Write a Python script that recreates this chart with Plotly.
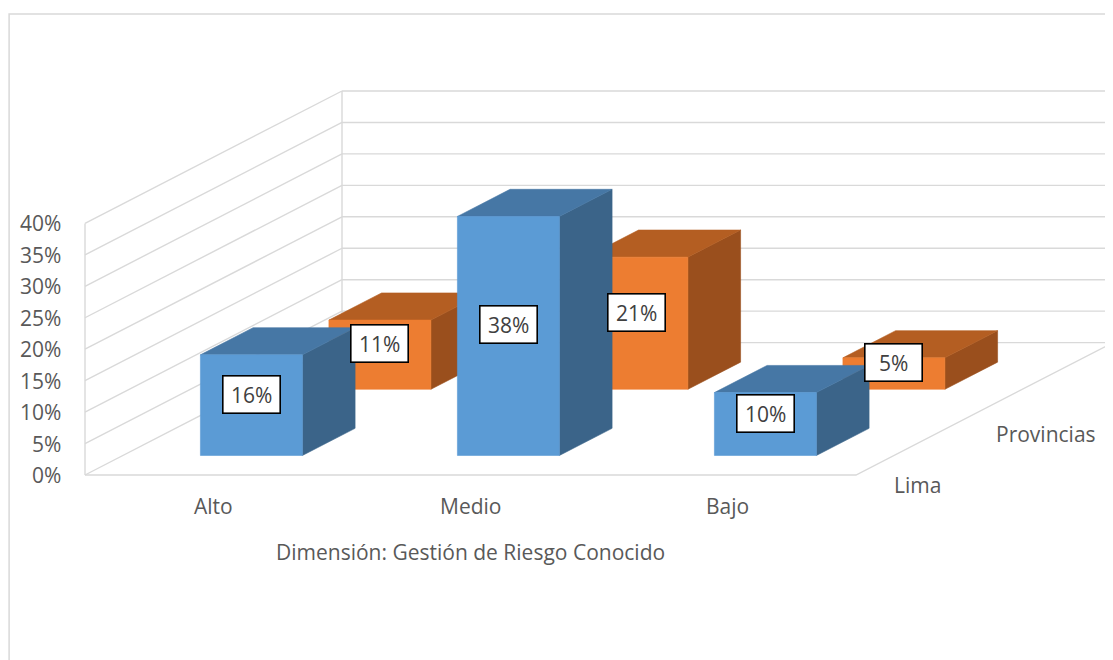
import plotly.graph_objects as go

# ---------------- data ----------------
categories = ["Alto", "Medio", "Bajo"]
series_names = ["Lima", "Provincias"]
lima_values = [16, 38, 10]
provincias_values = [11, 21, 5]
y_ticks = [0, 5, 10, 15, 20, 25, 30, 35, 40]
y_tick_labels = ["0%", "5%", "10%", "15%", "20%", "25%", "30%", "35%", "40%"]
axis_title = "Dimensión: Gestión de Riesgo Conocido"

# ---------------- style / geometry ----------------
PAGE_OFF = 8               # default page margin of the html body
W, H = 1113 - PAGE_OFF, 660 - PAGE_OFF
ORIGIN_PX = (85 - PAGE_OFF, 475 - PAGE_OFF)
CAT_PX = 257.0             # pixels per category
PCT_PX = 6.29              # pixels per percent
SLOT_DX = 0.5              # depth step per series, in category units
SLOT_DY = 66.2 / PCT_PX    # depth step per series, in percent units
BAR_W = 102 / CAT_PX
BAR_D = 0.41
FONT = "Open Sans"
FS = 21
TXT = "#595959"
GRID = "#D9D9D9"
face_colors = {
    "Lima": ("#5B9BD5", "#4677A5", "#3B6489"),
    "Provincias": ("#ED7D31", "#B45E22", "#9A4F1D"),
}

x_range = [-ORIGIN_PX[0] / CAT_PX, (W - ORIGIN_PX[0]) / CAT_PX]
y_range = [-(H - ORIGIN_PX[1]) / PCT_PX, ORIGIN_PX[1] / PCT_PX]

n_cat = len(categories)
n_ser = len(series_names)
y_max = max(y_ticks)


def P(x, y, z):
    """oblique projection of (category x, value y, depth z)"""
    return x + z * SLOT_DX, y + z * SLOT_DY


fig = go.Figure()


def line(pts, color=GRID, width=1.4):
    xs = [P(*p)[0] for p in pts]
    ys = [P(*p)[1] for p in pts]
    fig.add_trace(go.Scatter(x=xs, y=ys, mode="lines",
                             line=dict(color=color, width=width),
                             hoverinfo="skip", showlegend=False))


def poly(pts, color):
    xs = [P(*p)[0] for p in pts] + [P(*pts[0])[0]]
    ys = [P(*p)[1] for p in pts] + [P(*pts[0])[1]]
    fig.add_trace(go.Scatter(x=xs, y=ys, mode="lines", fill="toself",
                             fillcolor=color, line=dict(color=color, width=0.6),
                             hoverinfo="skip", showlegend=False))


# walls and gridlines
for t in y_ticks:
    line([(0, t, 0), (0, t, n_ser)])
    line([(0, t, n_ser), (n_cat, t, n_ser)])
line([(0, 0, 0), (0, y_max, 0)])
line([(0, 0, n_ser), (0, y_max, n_ser)])
line([(n_cat, 0, n_ser), (n_cat, y_max, n_ser)])
# floor edges
line([(0, 0, 0), (n_cat, 0, 0), (n_cat, 0, n_ser)])

# bars: back series first
all_values = {"Lima": lima_values, "Provincias": provincias_values}
label_anns = []
for s in reversed(range(n_ser)):
    name = series_names[s]
    front, top, side = face_colors[name]
    z0 = s + 0.5 - BAR_D / 2
    z1 = s + 0.5 + BAR_D / 2
    for i, v in enumerate(all_values[name]):
        x0 = i + 0.5 - BAR_W / 2
        x1 = i + 0.5 + BAR_W / 2
        poly([(x1, 0, z0), (x1, 0, z1), (x1, v, z1), (x1, v, z0)], side)
        poly([(x0, v, z0), (x1, v, z0), (x1, v, z1), (x0, v, z1)], top)
        poly([(x0, 0, z0), (x1, 0, z0), (x1, v, z0), (x0, v, z0)], front)
        cx, cy = P(i + 0.5, v / 2, z0)
        label_anns.append(dict(
            x=cx, y=cy, text=f"{v}%", showarrow=False, yshift=11,
            font=dict(family=FONT, size=FS, color="#404040"),
            bgcolor="white", bordercolor="black", borderwidth=1.6,
            borderpad=1, width=54, height=34))

annotations = []
# y tick labels
for t, lab in zip(y_ticks, y_tick_labels):
    x, y = P(0, t, 0)
    annotations.append(dict(x=x, y=y, text=lab, showarrow=False,
                            xanchor="right", xshift=-22,
                            font=dict(family=FONT, size=FS, color=TXT)))
# category labels
for i, c in enumerate(categories):
    x, y = P(i + 0.5, 0, 0)
    annotations.append(dict(x=x, y=y, text=c, showarrow=False,
                            yshift=-31,
                            font=dict(family=FONT, size=FS, color=TXT)))
# series labels along right floor edge
for s, name in enumerate(series_names):
    x, y = P(n_cat, 0, s + 0.5)
    half_w = len(name) * 5.2
    drop = half_w * SLOT_DY * PCT_PX / (SLOT_DX * CAT_PX) + 16
    annotations.append(dict(x=x, y=y, text=name, showarrow=False,
                            xanchor="center", yanchor="top",
                            xshift=-3, yshift=-drop,
                            font=dict(family=FONT, size=FS, color=TXT)))
# axis title
x, y = P(n_cat / 2, 0, 0)
annotations.append(dict(x=x, y=y, text=axis_title, showarrow=False,
                        yshift=-77,
                        font=dict(family=FONT, size=FS, color=TXT)))

fig.update_layout(
    width=W, height=H,
    margin=dict(l=0, r=0, t=0, b=0),
    paper_bgcolor="white", plot_bgcolor="white",
    xaxis=dict(range=x_range, visible=False, fixedrange=True),
    yaxis=dict(range=y_range, visible=False, fixedrange=True),
    annotations=annotations + label_anns,
    shapes=[dict(type="rect", xref="paper", yref="paper",
                 x0=0.001, x1=1.02, y0=-0.02, y1=1 - 6 / H,
                 line=dict(color=GRID, width=1.5), fillcolor="rgba(0,0,0,0)",
                 layer="below")],
    showlegend=False,
)

fig.write_html("out.html")
